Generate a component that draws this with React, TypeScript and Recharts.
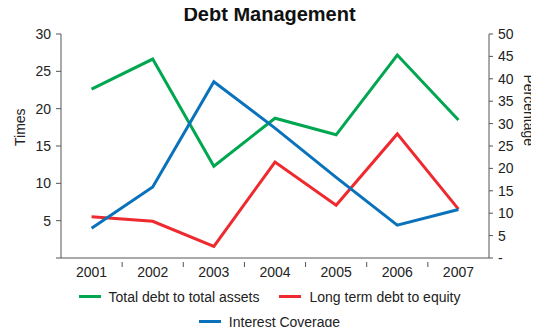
import { Line, LineChart, XAxis, YAxis } from 'recharts';

const years = ['2001', '2002', '2003', '2004', '2005', '2006', '2007'];
const totalDebtToAssets = [37.7, 44.4, 20.5, 31.2, 27.5, 45.3, 30.8];
const longTermDebtToEquity = [9.2, 8.2, 2.6, 21.4, 11.8, 27.7, 10.9];
const interestCoverage = [4.0, 9.5, 23.6, 17.4, 10.8, 4.4, 6.5];
const timesTicks = [0, 5, 10, 15, 20, 25, 30];
const percentTicks = [0, 5, 10, 15, 20, 25, 30, 35, 40, 45, 50];

const GREEN = '#00a650';
const RED = '#ee2a2f';
const BLUE = '#0a72ba';
const AXIS = '#555';
const FONT = 'Liberation Sans, Arial, sans-serif';

const chartData = years.map((year, i) => ({
  year,
  assets: totalDebtToAssets[i],
  equity: longTermDebtToEquity[i],
  coverage: interestCoverage[i],
}));

const PLOT_LEFT = 61;
const PLOT_RIGHT = 50;
const BAND = (539 - PLOT_LEFT - PLOT_RIGHT) / years.length;

function YearTick(props: any) {
  const { x, y, payload, index } = props;
  const left = x - BAND / 2;
  return (
    <g>
      {index > 0 && <line x1={left} y1={y - 4} x2={left} y2={y + 1} stroke={AXIS} />}
      <text x={x} y={y + 11} textAnchor="middle" fontSize={14} fill="#222" fontFamily={FONT}>
        {payload.value}
      </text>
    </g>
  );
}

function LegendBox() {
  const item = (color: string, label: string) => (
    <div style={{ display: 'flex', alignItems: 'center', margin: '0 10px' }}>
      <div style={{ width: 22, height: 3, background: color, marginRight: 8 }} />
      {label}
    </div>
  );
  const row = { display: 'flex', justifyContent: 'center', alignItems: 'center', height: 25 };
  return (
    <div
      style={{
        position: 'absolute',
        top: 284,
        left: 0,
        width: 539,
        fontFamily: FONT,
        fontSize: 14,
        color: '#222',
      }}
    >
      <div style={row}>
        {item(GREEN, 'Total debt to total assets')}
        {item(RED, 'Long term debt to equity')}
      </div>
      <div style={row}>{item(BLUE, 'Interest Coverage')}</div>
    </div>
  );
}

export default function App() {
  return (
    <div style={{ margin: -8, width: 539, height: 335, background: '#fff', position: 'relative', overflow: 'hidden' }}>
      <div
        style={{
          position: 'absolute',
          top: 3,
          left: 0,
          width: 539,
          textAlign: 'center',
          fontFamily: FONT,
          fontWeight: 'bold',
          fontSize: 20,
          color: '#111',
        }}
      >
        Debt Management
      </div>
      <LineChart width={539} height={335} data={chartData} margin={{ top: 34, right: 0, bottom: 48, left: 0 }}>
        <XAxis
          dataKey="year"
          stroke={AXIS}
          tickLine={false}
          tick={<YearTick />}
          height={29}
          interval={0}
          padding={{ left: BAND / 2, right: BAND / 2 }}
        />
        <YAxis
          yAxisId="left"
          domain={[0, 30]}
          ticks={timesTicks}
          width={PLOT_LEFT}
          stroke={AXIS}
          tickSize={5}
          tickMargin={5}
          tick={{ fontSize: 14, fill: '#222', fontFamily: FONT }}
          tickFormatter={(v: number) => (v === 0 ? '' : String(v))}
          label={{ value: 'Times', angle: -90, position: 'insideLeft', offset: 20, style: { fontSize: 14, fill: '#222', fontFamily: FONT } }}
        />
        <YAxis
          yAxisId="right"
          orientation="right"
          domain={[0, 50]}
          ticks={percentTicks}
          width={PLOT_RIGHT}
          stroke={AXIS}
          tickSize={4}
          tickMargin={5}
          tick={{ fontSize: 14, fill: '#222', fontFamily: FONT }}
          tickFormatter={(v: number) => (v === 0 ? '-' : String(v))}
          label={{ value: 'Percentage', angle: 90, position: 'insideRight', offset: 10, style: { fontSize: 14, fill: '#222', fontFamily: FONT } }}
        />
        <Line yAxisId="right" dataKey="assets" stroke={GREEN} strokeWidth={3} dot={false} isAnimationActive={false} />
        <Line yAxisId="right" dataKey="equity" stroke={RED} strokeWidth={3} dot={false} isAnimationActive={false} />
        <Line yAxisId="left" dataKey="coverage" stroke={BLUE} strokeWidth={3} dot={false} isAnimationActive={false} />
      </LineChart>
      <LegendBox />
    </div>
  );
}
